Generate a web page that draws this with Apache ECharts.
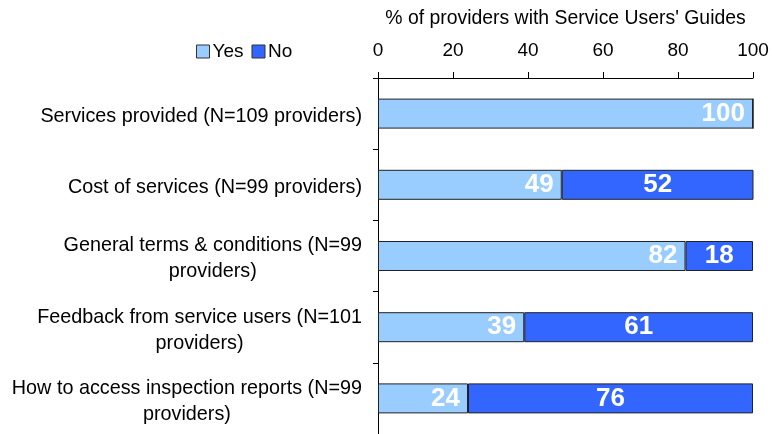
<!DOCTYPE html>
<html>
<head>
<meta charset="utf-8">
<script src="https://cdn.jsdelivr.net/npm/echarts@6/dist/echarts.min.js"></script>
<style>
html,body{margin:0;padding:0;background:#fff;}
#main{width:772px;height:434px;}
</style>
</head>
<body>
<div id="main"></div>
<script>
var categories = [
  'Services provided (N=109 providers)',
  'Cost of services (N=99 providers)',
  'General terms & conditions (N=99\nproviders)',
  'Feedback from service users (N=101\nproviders)',
  'How to access inspection reports (N=99\nproviders)'
];
var yesValues = [100, 49, 82, 39, 24];
var noValues = [0, 52, 18, 61, 76];
var xTicks = [0, 20, 40, 60, 80, 100];

var FONT = 'Liberation Sans, Arial, sans-serif';
var mychart = echarts.init(document.getElementById('main'));
mychart.setOption({
  animation: false,
  textStyle: {fontFamily: FONT},
  legend: {
    left: 191,
    top: 37,
    itemWidth: 13,
    itemHeight: 13,
    itemGap: 8,
    icon: 'rect',
    textStyle: {fontSize: 19, color: '#000', fontFamily: FONT, padding: [0, 0, 0, -2]},
    data: [
      {name: 'Yes', itemStyle: {borderColor: '#333', borderWidth: 1}},
      {name: 'No', itemStyle: {borderColor: '#333', borderWidth: 1}}
    ]
  },
  grid: {left: 378, right: 19, top: 78, bottom: 0, outerBoundsMode: 'none', containLabel: false},
  xAxis: {
    type: 'value',
    position: 'top',
    min: 0,
    max: 100,
    interval: 20,
    name: "% of providers with Service Users' Guides",
    nameLocation: 'middle',
    nameGap: 50,
    nameTextStyle: {fontSize: 19.4, color: '#000', fontFamily: FONT},
    splitLine: {show: false},
    axisLine: {show: true, lineStyle: {color: '#000', width: 1}},
    axisTick: {show: true, length: 6, lineStyle: {color: '#000'}},
    axisLabel: {
      fontSize: 19, color: '#000', margin: 18, fontFamily: FONT,
      formatter: function (v) { return xTicks.indexOf(v) >= 0 ? v : ''; }
    }
  },
  yAxis: {
    type: 'category',
    inverse: true,
    data: categories,
    axisLine: {show: true, lineStyle: {color: '#000', width: 1}},
    axisTick: {show: true, length: 5, lineStyle: {color: '#000'}},
    axisLabel: {
      margin: 16,
      fontSize: 19.8,
      color: '#000',
      fontFamily: FONT,
      lineHeight: 26,
      padding: [6, 0, 0, 0],
      formatter: function (v) {
        return v.split('\n').map(function (s) { return '{c|' + s + '}'; }).join('\n');
      },
      rich: {c: {align: 'center', fontSize: 19.8, lineHeight: 26, color: '#000', fontFamily: FONT}}
    }
  },
  series: [
    {
      name: 'Yes',
      type: 'bar',
      stack: 'total',
      barWidth: 30,
      data: yesValues,
      itemStyle: {color: '#99ccff', borderColor: '#222', borderWidth: 1},
      label: {
        show: true,
        position: 'insideRight',
        distance: 8,
        color: '#fff',
        fontSize: 26,
        fontWeight: 'bold',
        fontFamily: FONT,
        formatter: function (p) { return p.value ? p.value : ''; }
      }
    },
    {
      name: 'No',
      type: 'bar',
      stack: 'total',
      barWidth: 30,
      data: noValues,
      itemStyle: {color: '#3366ff', borderColor: '#222', borderWidth: 1},
      label: {
        show: true,
        position: 'inside',
        color: '#fff',
        fontSize: 26,
        fontWeight: 'bold',
        fontFamily: FONT,
        formatter: function (p) { return p.value ? p.value : ''; }
      }
    }
  ]
});
</script>
</body>
</html>
